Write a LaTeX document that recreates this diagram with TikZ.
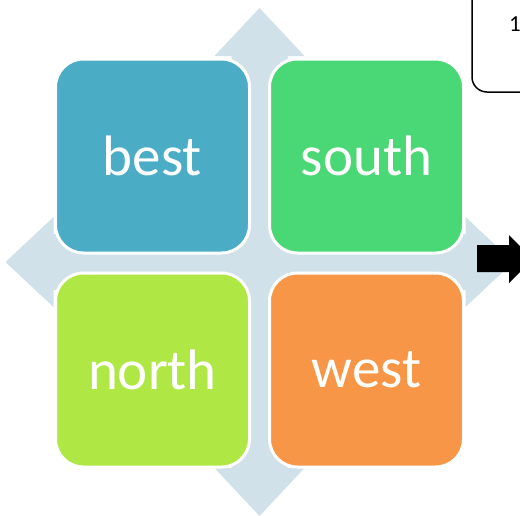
\documentclass[tikz,border=0pt]{standalone}
\usepackage{fontspec}
\setmainfont{Carlito}
\usetikzlibrary{positioning}
\definecolor{crossblue}{HTML}{D0E1E9}
\definecolor{bestblue}{HTML}{4BACC6}
\definecolor{southgreen}{HTML}{4AD776}
\definecolor{northlime}{HTML}{AFE845}
\definecolor{westorange}{HTML}{F79646}

\begin{document}
\begin{tikzpicture}[x=1pt,y=-1pt,node distance=20pt]
		\tikzstyle{tile}=[draw=white,line width=3pt,rounded corners=28pt,
		minimum size=194pt,inner sep=0pt,outer sep=0pt,text=white,
		font=\fontsize{57}{60}\selectfont]
		\useasboundingbox (0,0) rectangle (520,515);
		\clip (0,0) rectangle (520,515);
		
		% four-way arrow behind the tiles
		\begin{scope}[shift={(259.5,262)}]
		\fill[crossblue] (0,-254) -- (45,-206) -- (28,-206) -- (28,-28)
		-- (206,-28) -- (206,-45) -- (254,0) -- (206,45) -- (206,28)
		-- (28,28) -- (28,206) -- (45,206) -- (0,254) -- (-45,206)
		-- (-28,206) -- (-28,28) -- (-206,28) -- (-206,45) -- (-254,0)
		-- (-206,-45) -- (-206,-28) -- (-28,-28) -- (-28,-206)
		-- (-45,-206) -- cycle;
		\end{scope}
		
		\node[tile,fill=bestblue] (best) at (152.5,156) {best};
		\node[tile,fill=southgreen] (south) [right=of best] {south};
		\node[tile,fill=northlime] (north) [below=of best] {north};
		\node[tile,fill=westorange] (west) [right=of north] {west};
		
		% block arrow and note box, cut by the page edge
		\fill (477,245) -- (509,245) -- (509,235) -- (533,259)
		-- (509,283) -- (509,272) -- (477,272) -- cycle;
		\draw[line width=1.5pt,rounded corners=15pt] (472,-30) rectangle (600,92);
		\node[anchor=north west,inner sep=0pt,font=\fontsize{23}{25}\selectfont]
		(num) at (509,16) {1};
		\end{tikzpicture}
\end{document}
